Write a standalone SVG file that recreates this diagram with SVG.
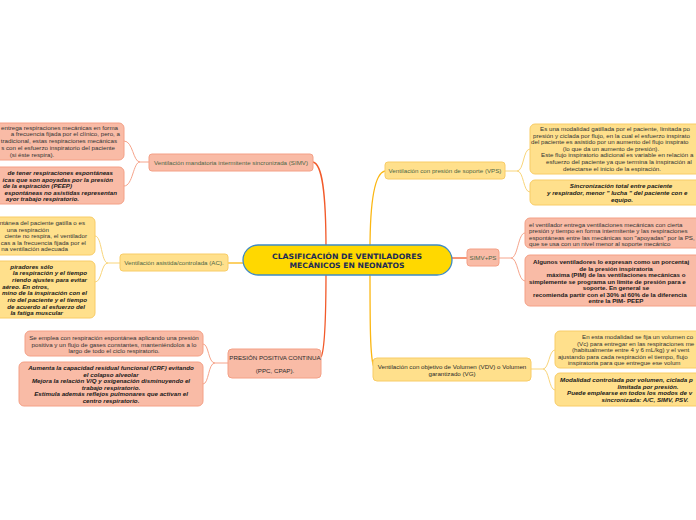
<svg xmlns="http://www.w3.org/2000/svg" width="696" height="520" viewBox="0 0 696 520">
<style>
text{font-family:"Liberation Sans",Arial,sans-serif;font-size:6.2px;fill:#333}
.t{font-size:6.2px;fill:#4d6646}
.td{font-size:6.2px;fill:#2b2b2b}
.b{font-weight:bold;font-style:italic;fill:#1a1a1a}
.bn{font-weight:bold;fill:#1a1a1a}
.m{text-anchor:middle}
.e{text-anchor:end}
.sal{fill:#F9BBA6;stroke:#F4A086;stroke-width:1}
.yel{fill:#FFE08C;stroke:#F8CC66;stroke-width:1}
.cr{fill:none;stroke:#F25A2A;stroke-width:1.3}
.cy{fill:none;stroke:#FBB713;stroke-width:1.3}
.sr{fill:none;stroke:#F6A48B;stroke-width:1}
.sy{fill:none;stroke:#F9D57A;stroke-width:1}
.ct{font-family:"DejaVu Sans",sans-serif;font-weight:bold;font-size:7.4px;fill:#1c2a55}
</style>
<rect width="696" height="520" fill="#fff"/>
<g id="connectors">
<path class="cr" d="M313 162 C322 164 326 190 326 250"/>
<path class="cr" d="M326 270 C326 320 325 350 321 357"/>
<path class="cr" d="M452 258 L467 258"/>
<path class="cy" d="M385 171 C375 173 370 200 370 250"/>
<path class="cy" d="M370 270 C370 320 370 360 374 367"/>
<path class="cy" d="M228 263 L243 263"/>
<path class="sr" d="M149 162 L140 162 C133 162 133 141 124 141"/>
<path class="sr" d="M140 162 C133 162 133 186 124 186"/>
<path class="sy" d="M120 263 L108 263 C101 263 102 236 95 236"/>
<path class="sy" d="M108 263 C101 263 102 282 95 282"/>
<path class="sr" d="M228 363 L215 363 C208 363 209 344 203 344"/>
<path class="sr" d="M215 363 C208 363 209 384 203 384"/>
<path class="sy" d="M505 171 L517 171 C524 171 523 149 530 149"/>
<path class="sy" d="M517 171 C524 171 523 192 530 192"/>
<path class="sr" d="M499 258 L511 258 C518 258 518 233 525 233"/>
<path class="sr" d="M511 258 C518 258 518 281 525 281"/>
<path class="sy" d="M531 369 L543 369 C549 369 549 350 555 350"/>
<path class="sy" d="M543 369 C549 369 549 390 555 390"/>
</g>
<g id="central">
<rect x="243" y="245" width="209" height="30" rx="15" fill="#FFD800" stroke="#3E8AC5" stroke-width="1.3"/>
<text class="ct m" x="347" y="258.5" textLength="150" lengthAdjust="spacingAndGlyphs">CLASIFICACIÓN DE VENTILADORES</text>
<text class="ct m" x="347" y="268" textLength="115" lengthAdjust="spacingAndGlyphs">MECÁNICOS EN NEONATOS</text>
</g>
<g id="simv">
<rect class="sal" x="149" y="154" width="164" height="17" rx="3"/>
<text class="t m" x="231" y="164.5">Ventilación mandatoria intermitente sincronizada (SIMV)</text>
</g>
<g id="simv-d1">
<rect class="sal" x="-20" y="123" width="144" height="37" rx="5"/>
<text class="e" x="118" y="129.5">entrega respiraciones mecánicas en forma</text>
<text class="e" x="120" y="136.4">a frecuencia fijada por el clínico, pero, a</text>
<text class="e" x="117" y="143.3">tradicional, estas respiraciones mecánicas</text>
<text class="e" x="115" y="150.2">s con el esfuerzo inspiratorio del paciente</text>
<text class="m" x="32" y="157.1">(si éste respira).</text>
</g>
<g id="simv-d2">
<rect class="sal" x="-20" y="167" width="144" height="37" rx="5"/>
<text class="b e" x="113" y="175">de tener respiraciones espontáneas</text>
<text class="b e" x="113" y="181.5">icas que son apoyadas por la presión</text>
<text class="b e" x="72" y="188">de la espiración (PEEP)</text>
<text class="b e" x="117" y="194.5">espontáneas no asistidas representan</text>
<text class="b e" x="79" y="201">ayor trabajo respiratorio.</text>
</g>
<g id="ac">
<rect class="yel" x="120" y="254" width="108" height="17" rx="3"/>
<text class="t m" x="174" y="264.5">Ventilación asistida/controlada (AC).</text>
</g>
<g id="ac-d1">
<rect class="yel" x="-20" y="217" width="115" height="38" rx="5"/>
<text class="e" x="85" y="225">ntánea del paciente gatilla o es</text>
<text class="e" x="49" y="231.5">una respiración</text>
<text class="e" x="87" y="238">ciente no respira, el ventilador</text>
<text class="e" x="86" y="244.5">cas a la frecuencia fijada por el</text>
<text class="e" x="68" y="251">na ventilación adecuada</text>
</g>
<g id="ac-d2">
<rect class="yel" x="-20" y="261" width="115" height="57" rx="5"/>
<text class="b e" x="53" y="268.7">piradores sólo</text>
<text class="b e" x="87" y="275.3">la respiración y el tiempo</text>
<text class="b e" x="87" y="282">riendo ajustes para evitar</text>
<text class="b e" x="49" y="288.7">aéreo. En otros,</text>
<text class="b e" x="87" y="295.3">mino de la inspiración con el</text>
<text class="b e" x="87" y="302">rio del paciente y el tiempo</text>
<text class="b e" x="85" y="308.7">de acuerdo al esfuerzo del</text>
<text class="b e" x="63" y="315.3">la fatiga muscular</text>
</g>
<g id="ppc">
<rect class="sal" x="228" y="349" width="93" height="29" rx="4"/>
<text class="td m" x="275" y="360">PRESIÓN POSITIVA CONTINUA</text>
<text class="td m" x="275" y="373">(PPC, CPAP).</text>
</g>
<g id="ppc-d1">
<rect class="sal" x="25" y="331" width="178" height="25" rx="5"/>
<text class="m" x="114" y="340">Se emplea con respiración espontánea aplicando una presión</text>
<text class="m" x="114" y="346.5">positiva y un flujo de gases constantes, manteniéndolos a lo</text>
<text class="m" x="114" y="353">largo de todo el ciclo respiratorio.</text>
</g>
<g id="ppc-d2">
<rect class="sal" x="19" y="362" width="184" height="44" rx="5"/>
<text class="b m" x="111" y="370">Aumenta la capacidad residual funcional (CRF) evitando</text>
<text class="b m" x="111" y="376.5">el colapso alveolar</text>
<text class="b m" x="111" y="383">Mejora la relación V/Q y oxigenación disminuyendo el</text>
<text class="b m" x="111" y="389.5">trabajo respiratorio.</text>
<text class="b m" x="111" y="396">Estimula además reflejos pulmonares que activan el</text>
<text class="b m" x="111" y="402.5">centro respiratorio.</text>
</g>
<g id="vps">
<rect class="yel" x="385" y="162" width="120" height="17" rx="3"/>
<text class="t m" x="445" y="172.5">Ventilación con presión de soporte (VPS)</text>
</g>
<g id="vps-d1">
<rect class="yel" x="530" y="124" width="180" height="50" rx="5"/>
<text x="540" y="131">Es una modalidad gatillada por el paciente, limitada po</text>
<text x="533" y="137.6">presión y ciclada por flujo, en la cual el esfuerzo inspirato</text>
<text x="531" y="144.2">del paciente es asistido por un aumento del flujo inspirato</text>
<text class="m" x="611" y="150.8">(lo que da un aumento de presión).</text>
<text x="541" y="157.4">Este flujo inspiratorio adicional es variable en relación a</text>
<text x="546" y="164">esfuerzo del paciente ya que termina la inspiración al</text>
<text class="m" x="612" y="170.6">detectarse el inicio de la espiración.</text>
</g>
<g id="vps-d2">
<rect class="yel" x="530" y="180" width="180" height="25" rx="5"/>
<text class="b m" x="621" y="188">Sincronización total entre paciente</text>
<text class="b" x="547" y="195">y respirador, menor " lucha " del paciente con e</text>
<text class="b m" x="622" y="202">equipo.</text>
</g>
<g id="simvps">
<rect class="sal" x="467" y="249" width="32" height="17" rx="3"/>
<text class="t m" x="483" y="259.5">SIMV+PS</text>
</g>
<g id="simvps-d1">
<rect class="sal" x="525" y="218" width="185" height="30" rx="5"/>
<text x="529" y="227">el ventilador entrega ventilaciones mecánicas con cierta</text>
<text x="529" y="233.3">presión y tiempo en forma intermitente y las respiraciones</text>
<text x="529" y="239.6">espontáneas entre las mecánicas son "apoyadas" por la PS,</text>
<text x="529" y="246">que se usa con un nivel menor al soporte mecánico</text>
</g>
<g id="simvps-d2">
<rect class="sal" x="525" y="255" width="185" height="51" rx="5"/>
<text class="bn" x="533" y="264">Algunos ventiladores lo expresan como un porcentaj</text>
<text class="bn m" x="616" y="270.5">de la presión inspiratoria</text>
<text class="bn m" x="616" y="277">máxima (PIM) de las ventilaciones mecánicas o</text>
<text class="bn" x="529" y="283.5">simplemente se programa un límite de presión para e</text>
<text class="bn m" x="616" y="290">soporte. En general se</text>
<text class="bn" x="533" y="296.5">recomienda partir con el 30% al 60% de la diferencia</text>
<text class="bn m" x="616" y="303">entre la PIM- PEEP</text>
</g>
<g id="vg">
<rect class="yel" x="373" y="358" width="158" height="23" rx="4"/>
<text class="td m" x="452" y="368.5">Ventilación con objetivo de Volumen (VDV) o Volumen</text>
<text class="td m" x="452" y="375.5">garantizado (VG)</text>
</g>
<g id="vg-d1">
<rect class="yel" x="555" y="331" width="155" height="37" rx="5"/>
<text x="582" y="339">En esta modalidad se fija un volumen co</text>
<text x="577" y="345.5">(Vc) para entregar en las respiraciones me</text>
<text x="572" y="352">(habitualmente entre 4 y 6 mL/kg) y el vent</text>
<text x="558" y="358.5">ajustando para cada respiración el tiempo, flujo</text>
<text x="568" y="365">inspiratoria para que entregue ese volum</text>
</g>
<g id="vg-d2">
<rect class="yel" x="555" y="373" width="155" height="33" rx="5"/>
<text class="b" x="560" y="382">Modalidad controlada por volumen, ciclada p</text>
<text class="b m" x="648" y="388.5">limitada por presión.</text>
<text class="b" x="567" y="395">Puede emplearse en todos los modos de v</text>
<text class="b m" x="645" y="401.5">sincronizada: A/C, SIMV, PSV.</text>
</g>
</svg>
